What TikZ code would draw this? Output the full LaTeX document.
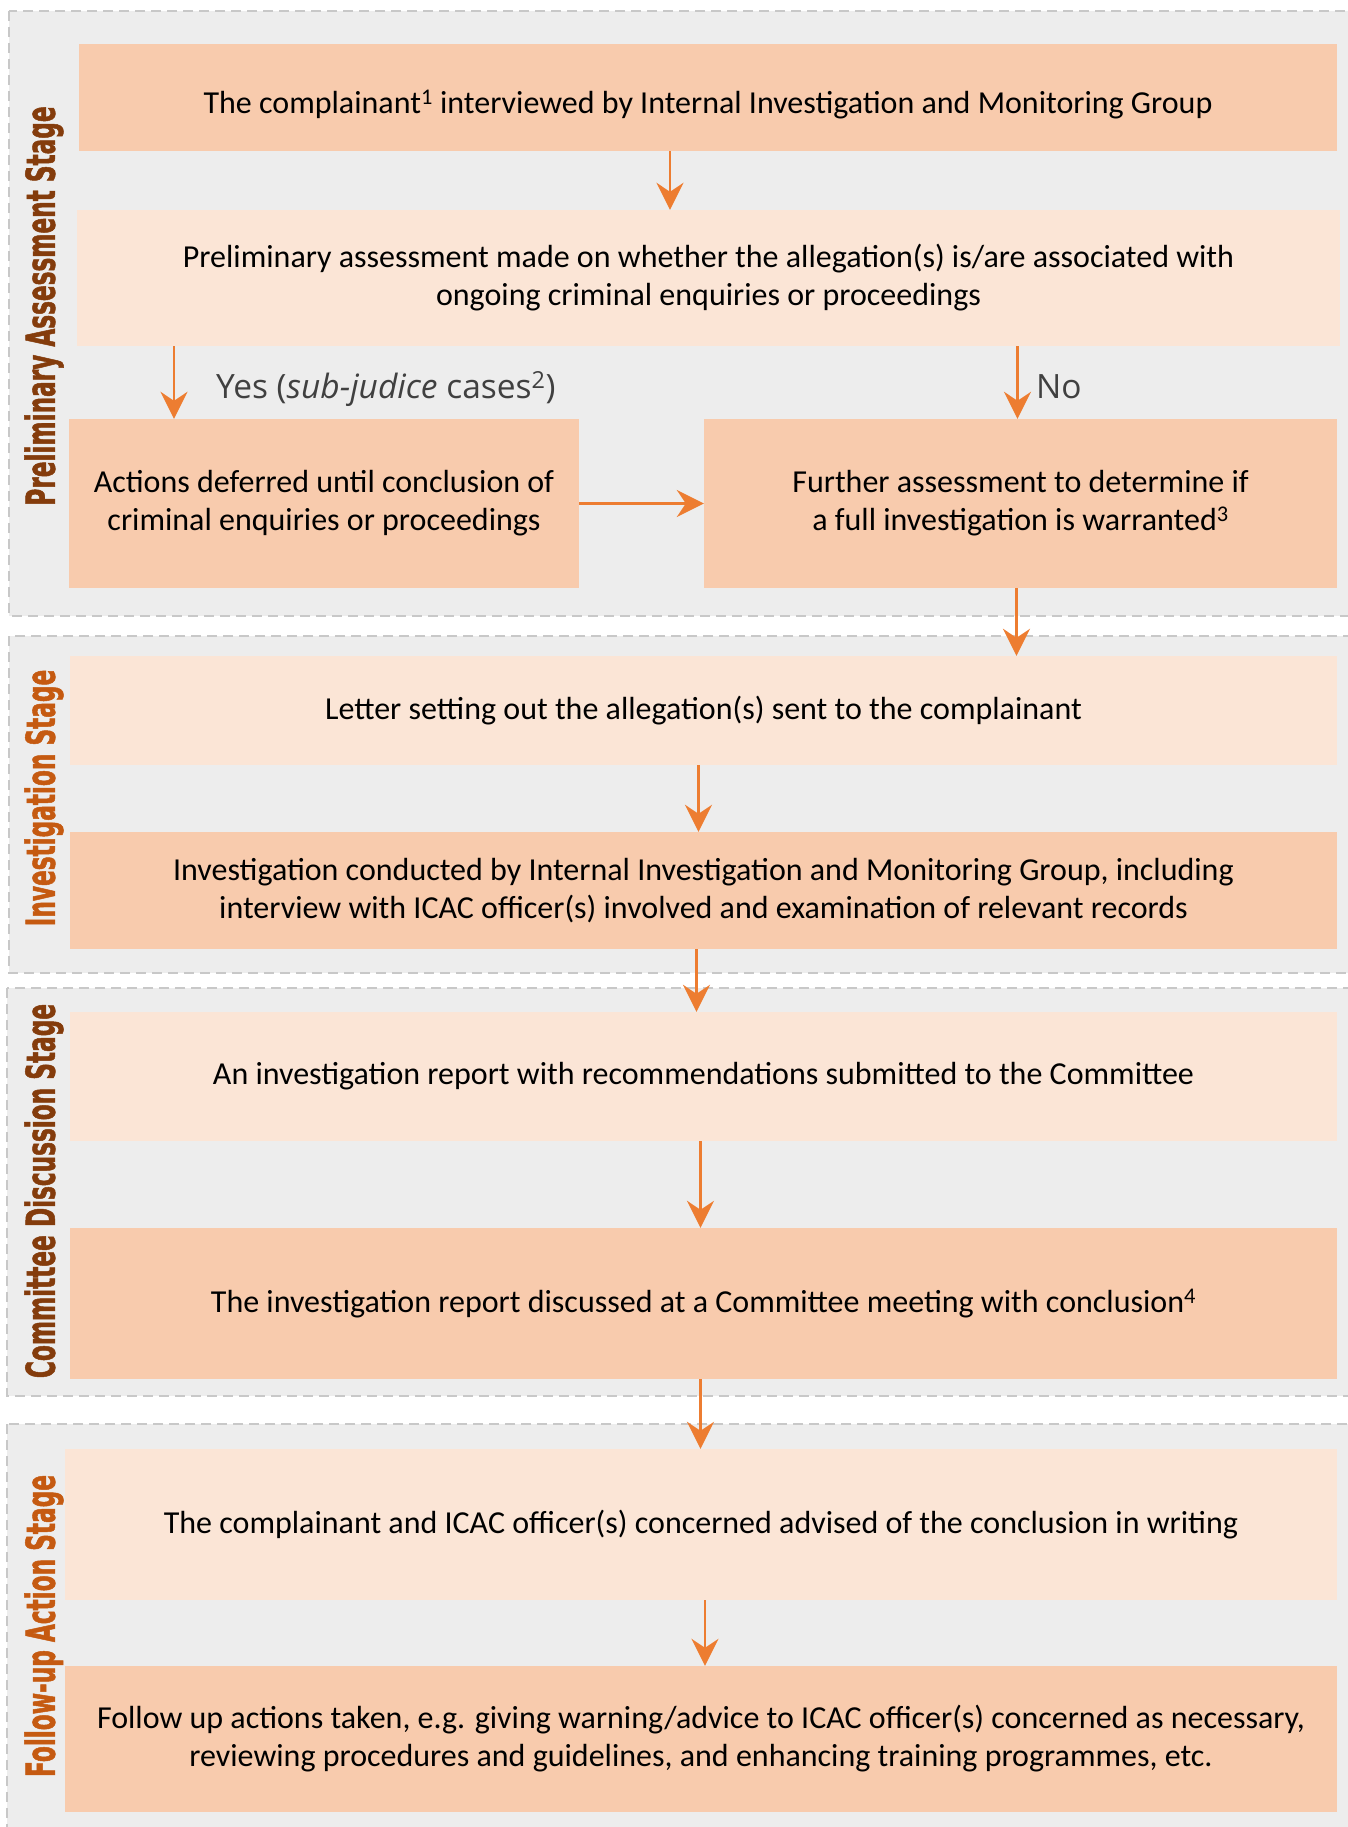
\documentclass[tikz,border=0pt]{standalone}
\usepackage{fontspec}
\setmainfont{Carlito}
\newfontfamily\yesfont{Open Sans}
\newfontfamily\stagefont[FakeStretch=0.58,BoldFeatures={FakeBold=1.2}]{DejaVu Sans}
\usetikzlibrary{arrows.meta}

\definecolor{stagefill}{HTML}{EDEDED}
\definecolor{stageline}{HTML}{C8C8C8}
\definecolor{darkpeach}{HTML}{F8CBAD}
\definecolor{lightpeach}{HTML}{FBE5D6}
\definecolor{flowcol}{HTML}{ED7D31}
\definecolor{brownlbl}{HTML}{843C0C}
\definecolor{orangelbl}{HTML}{C55A11}
\definecolor{yesgray}{HTML}{404040}
\newcommand\bodysize{\fontsize{32}{38}\selectfont}

\begin{document}
\begin{tikzpicture}[x=1pt,y=-1pt,
  stagebox/.style={draw=stageline,line width=2pt,dash pattern=on 10pt off 6pt,fill=stagefill},
  darkbox/.style={fill=darkpeach,inner sep=0pt,align=center,font=\bodysize},
  lightbox/.style={fill=lightpeach,inner sep=0pt,align=center,font=\bodysize},
  flow/.style={draw=flowcol,line width=2.5pt,-{Stealth[length=27pt,width=27pt,inset=9pt]}},
  stagelbl/.style={rotate=90,font=\stagefont\bfseries\fontsize{40}{40}\selectfont},
  choice/.style={text=yesgray,inner sep=0pt,font=\yesfont\fontsize{33.5}{40}\selectfont}]
  \useasboundingbox (0,0) rectangle (1348,1827);
  % stages
  \path[stagebox] (9,11) rectangle (1352,616);
  \path[stagebox] (9,636) rectangle (1352,973);
  \path[stagebox] (7,988) rectangle (1352,1396);
  \path[stagebox] (7,1424) rectangle (1352,1845);
  \node[stagelbl,text=brownlbl] (s1) at (44,306) {Preliminary Assessment Stage};
  \node[stagelbl,text=orangelbl] (s2) at (44,798) {Investigation Stage};
  \node[stagelbl,text=brownlbl] (s3) at (44,1191) {Committee Discussion Stage};
  \node[stagelbl,text=orangelbl] (s4) at (44,1626) {Follow-up Action Stage};
  % boxes
  \node[darkbox,minimum width=1258pt,minimum height=107pt,text height=38pt,text depth=6pt] (b1) at (708,97.5)
    {The complainant\textsuperscript{1} interviewed by Internal Investigation and Monitoring Group};
  \node[lightbox,minimum width=1263pt,minimum height=136pt] (b2) at (708.5,278)
    {Preliminary assessment made on whether the allegation(s) is/are associated with\\ ongoing criminal enquiries or proceedings};
  \node[darkbox,minimum width=510pt,minimum height=169pt] (b3) at (324,503.5)
    {Actions deferred until conclusion of\\ criminal enquiries or proceedings};
  \node[darkbox,minimum width=633pt,minimum height=169pt] (b4) at (1020.5,503.5)
    {Further assessment to determine if\\ a full investigation is warranted\textsuperscript{3}};
  \node[lightbox,minimum width=1267pt,minimum height=109pt] (b5) at (703.5,710.5)
    {Letter setting out the allegation(s) sent to the complainant};
  \node[darkbox,minimum width=1267pt,minimum height=117pt] (b6) at (703.5,890.5)
    {Investigation conducted by Internal Investigation and Monitoring Group, including\\ interview with ICAC officer(s) involved and examination of relevant records};
  \node[lightbox,minimum width=1267pt,minimum height=129pt] (b7) at (703.5,1076.5)
    {An investigation report with recommendations submitted to the Committee};
  \node[darkbox,minimum width=1267pt,minimum height=151pt] (b8) at (703.5,1303.5)
    {The investigation report discussed at a Committee meeting with conclusion\textsuperscript{4}};
  \node[lightbox,minimum width=1272pt,minimum height=151pt] (b9) at (701,1524.5)
    {The complainant and ICAC officer(s) concerned advised of the conclusion in writing};
  \node[darkbox,minimum width=1272pt,minimum height=146pt] (b10) at (701,1739)
    {Follow up actions taken, e.g. giving warning/advice to ICAC officer(s) concerned as necessary,\\ reviewing procedures and guidelines, and enhancing training programmes, etc.};
  % branch labels
  \node[choice,anchor=base west] (yes) at (216,398) {Yes (\textit{sub-judice} cases\textsuperscript{2})};
  \node[choice,anchor=base west] (no) at (1036,398) {No};
  % arrows
  \draw[flow] ([xshift=-38pt]b1.south) -- ([xshift=-38pt]b1.south |- b2.north);
  \draw[flow] ([xshift=-150pt]b3.north |- b2.south) -- ([xshift=-150pt]b3.north);
  \draw[flow] ([xshift=-3pt]b4.north |- b2.south) -- ([xshift=-3pt]b4.north);
  \draw[flow] (b3.east) -- (b4.west);
  \draw[flow] ([xshift=-4pt]b4.south) -- ([xshift=-4pt]b4.south |- b5.north);
  \draw[flow] ([xshift=-5pt]b5.south) -- ([xshift=-5pt]b6.north);
  \draw[flow] ([xshift=-7pt]b6.south) -- ([xshift=-7pt]b7.north);
  \draw[flow] ([xshift=-3pt]b7.south) -- ([xshift=-3pt]b8.north);
  \draw[flow] ([xshift=-3pt]b8.south) -- ([xshift=-3pt]b8.south |- b9.north);
  \draw[flow] ([xshift=4pt]b9.south) -- ([xshift=4pt]b10.north);
\end{tikzpicture}
\end{document}
